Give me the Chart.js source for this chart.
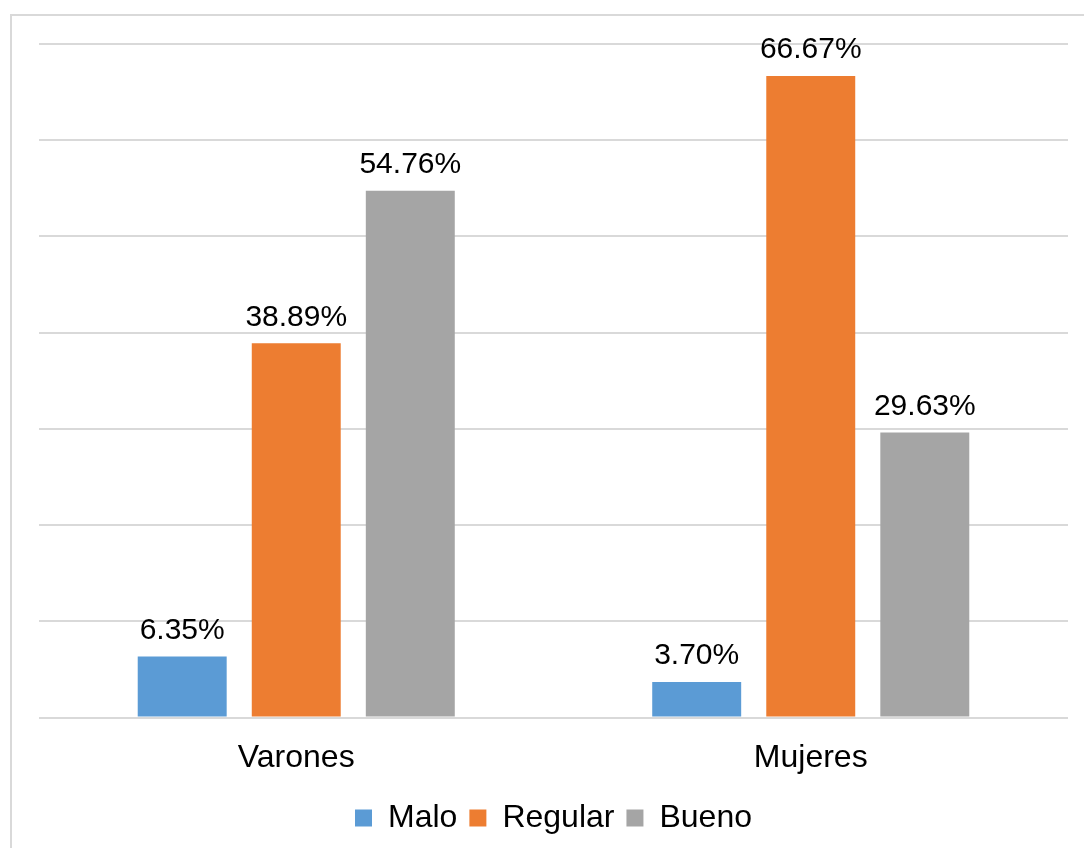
<!DOCTYPE html>
<html>
<head>
<meta charset="utf-8">
<script src="https://cdn.jsdelivr.net/npm/chart.js@4"></script>
<style>
  html, body { margin: 0; padding: 0; background: #fff; }
  #wrap { position: relative; width: 1084px; height: 848px; }
</style>
</head>
<body>
<div id="wrap"><canvas id="chart" width="1084" height="848"></canvas></div>
<script>
const groups = ['Varones', 'Mujeres'];
const seriesNames = ['Malo', 'Regular', 'Bueno'];
const malo = [6.35, 3.70];
const regular = [38.89, 66.67];
const bueno = [54.76, 29.63];
const seriesColors = ['#5B9BD5', '#ED7D31', '#A5A5A5'];

const FONT = "'Liberation Sans', Arial, sans-serif";

// frame line around the chart (left and top edges are visible)
const framePlugin = {
  id: 'frame',
  beforeDraw(chart) {
    const { ctx } = chart;
    ctx.save();
    ctx.strokeStyle = '#D9D9D9';
    ctx.lineWidth = 2;
    ctx.beginPath();
    ctx.moveTo(11, chart.height + 5);
    ctx.lineTo(11, 15);
    ctx.lineTo(chart.width + 5, 15);
    ctx.stroke();
    ctx.restore();
  }
};

// percentage labels above each bar
const valueLabels = {
  id: 'valueLabels',
  afterDatasetsDraw(chart) {
    const { ctx } = chart;
    ctx.save();
    ctx.font = '30px ' + FONT;
    ctx.fillStyle = '#000';
    ctx.textAlign = 'center';
    ctx.textBaseline = 'bottom';
    chart.data.datasets.forEach((ds, i) => {
      chart.getDatasetMeta(i).data.forEach((bar, j) => {
        ctx.fillText(ds.data[j].toFixed(2) + '%', bar.x, bar.y - 11);
      });
    });
    ctx.restore();
  }
};

const ctx = document.getElementById('chart');

new Chart(ctx, {
  type: 'bar',
  data: {
    labels: groups,
    datasets: [malo, regular, bueno].map((vals, i) => ({
      label: seriesNames[i],
      data: vals,
      backgroundColor: seriesColors[i],
      borderWidth: 0,
      categoryPercentage: 0.665,
      barPercentage: 0.78
    }))
  },
  options: {
    responsive: false,
    animation: false,
    devicePixelRatio: 1,
    layout: {
      padding: { left: 39, right: 16, top: 44, bottom: 4 }
    },
    plugins: {
      legend: {
        position: 'bottom',
        labels: {
          font: { family: FONT, size: 32 },
          color: '#000',
          boxWidth: 17,
          boxHeight: 17,
          padding: 12
        }
      },
      tooltip: { enabled: false }
    },
    scales: {
      x: {
        grid: { display: false },
        border: { display: false },
        ticks: {
          font: { family: FONT, size: 32 },
          color: '#000',
          padding: 13
        }
      },
      y: {
        min: 0,
        max: 70,
        ticks: { display: false, stepSize: 10 },
        grid: { color: '#D9D9D9', lineWidth: 2, drawTicks: false },
        border: { display: false }
      }
    }
  },
  plugins: [framePlugin, valueLabels]
});
</script>
</body>
</html>
